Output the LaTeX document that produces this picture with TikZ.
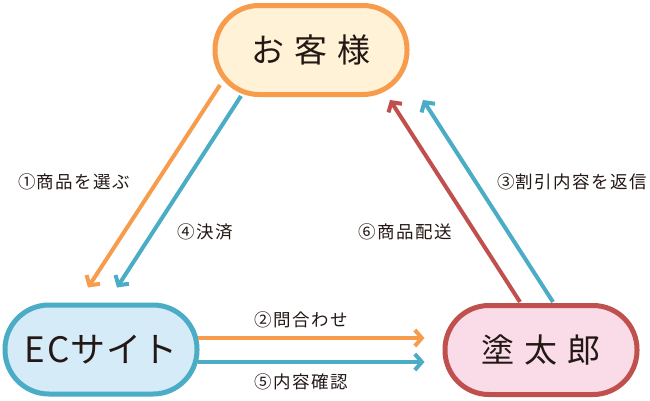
\documentclass[tikz,border=0pt]{standalone}
\usepackage{fontspec}
\setmainfont{Noto Sans CJK JP}
\newfontfamily\labfont[LetterSpace=8]{Noto Sans CJK JP}
\usetikzlibrary{arrows.meta,calc}
\definecolor{cOrange}{HTML}{F79C4C}
\definecolor{cCream}{HTML}{FFF2D6}
\definecolor{cBlue}{HTML}{4BACC6}
\definecolor{cLBlue}{HTML}{D5ECF8}
\definecolor{cRed}{HTML}{C0504D}
\definecolor{cPink}{HTML}{F9DCE8}
\definecolor{cText}{HTML}{231815}
\begin{document}
\begin{tikzpicture}[x=1pt,y=-1pt,
  party/.style={draw, line width=5pt, rounded corners=44pt, minimum width=192pt,
    minimum height=89pt, inner sep=0pt, text=cText, font=\fontsize{33}{33}\selectfont},
  conn/.style={line width=4pt, -{Straight Barb[length=7pt,width=16pt]}},
  lab/.style={inner sep=0pt, text=cText, font=\labfont\fontsize{17.5}{18}\selectfont}]
\useasboundingbox[fill=white] (0,0) rectangle (650,400);
\node[party, draw=cOrange, fill=cCream] (ok) at (311,50) {お\hspace{10pt}客\hspace{10pt}様};
\node[party, draw=cBlue, fill=cLBlue, font=\fontsize{35}{35}\selectfont] (ec) at (101,349.5) {E\hspace{2pt}C\hspace{1pt}サ\hspace{1pt}イ\hspace{1pt}ト};
\node[party, draw=cRed, fill=cPink] (nt) at (541,350) {塗\hspace{10pt}太\hspace{10pt}郎};
% diagonal left
\draw[conn, cOrange] ($(ok.center)+(-91,35)$) -- ($(ec.center)+(-13,-62)$);
\draw[conn, cBlue] ($(ok.center)+(-70,46)$) -- ($(ec.center)+(16,-62)$);
% horizontal
\draw[conn, cOrange] ($(ec.east)+(-2,-11.5)$) -- ($(nt.west)+(-18,-12)$);
\draw[conn, cBlue] ($(ec.east)+(-2,12.5)$) -- ($(nt.west)+(-18,12)$);
% diagonal right
\draw[conn, cRed] ($(nt.center)+(-21,-48)$) -- ($(ok.center)+(79,50)$);
\draw[conn, cBlue] ($(nt.center)+(12,-48)$) -- ($(ok.center)+(112,50)$);
% labels
\node[lab] (l1) at (74,182) {①商品を選ぶ};
\node[lab] (l4) at (205,232) {④決済};
\node[lab] (l6) at (405,232) {⑥商品配送};
\node[lab] (l3) at (572,182) {③割引内容を返信};
\node[lab] (l2) at (301,320) {②問合わせ};
\node[lab] (l5) at (301,382) {⑤内容確認};
\end{tikzpicture}
\end{document}
